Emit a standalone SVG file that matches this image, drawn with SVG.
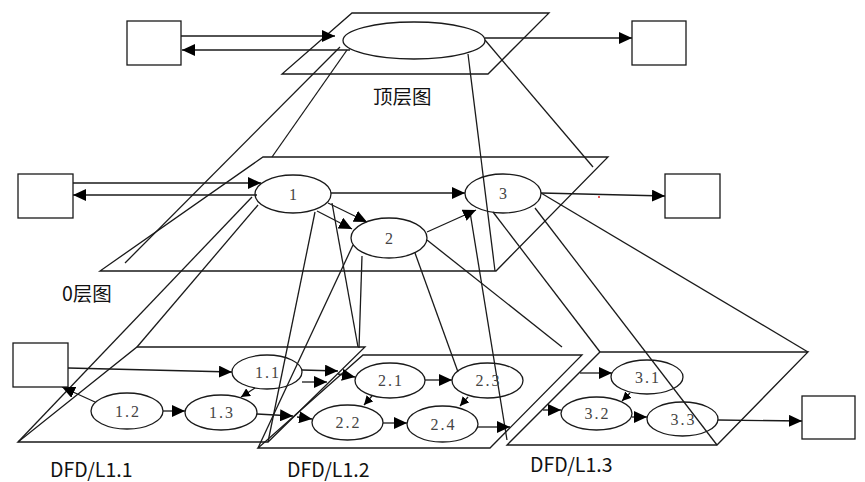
<svg xmlns="http://www.w3.org/2000/svg" width="865" height="482" viewBox="0 0 865 482">
  <style>
    .ln { fill: none; stroke: #1a1a1a; stroke-width: 1.3; }
    .sh { fill: #fff; stroke: #1a1a1a; stroke-width: 1.3; }
    .pl { fill: none; stroke: #1a1a1a; stroke-width: 1.3; stroke-linejoin: miter; }
    .num { font-family: "Liberation Serif", "Noto Serif", serif; font-size: 16px; fill: #444; text-anchor: middle; dominant-baseline: central; }
    .cap { font-family: "Noto Sans CJK SC", "Noto Sans", sans-serif; font-size: 19.5px; fill: #111; }
  </style>
  <defs>
    <marker id="arr" markerUnits="userSpaceOnUse" markerWidth="14" markerHeight="12" refX="13" refY="6" orient="auto">
      <path d="M0,0 L13,6 L0,12 z" fill="#000"/>
    </marker>
    <marker id="arrs" markerUnits="userSpaceOnUse" markerWidth="10" markerHeight="9" refX="9" refY="4.5" orient="auto">
      <path d="M0,0 L9,4.5 L0,9 z" fill="#000"/>
    </marker>
  </defs>

  <!-- level planes -->
  <g id="plane-top"><polygon class="pl" points="352,13 549,13 488,74 282,74"/></g>
  <g id="plane-0"><polygon class="pl" points="263,157 608,157 496,271 100,271"/></g>
  <g id="plane-l11"><polygon class="pl" points="137,347 365,347 268,442 18,442"/></g>
  <g id="plane-l12"><polygon class="pl" points="363,355 582,355 490,448 258,448"/></g>
  <g id="plane-l13"><polygon class="pl" points="600,352 808,352 717,445 507,445"/></g>

  <!-- projection lines between levels -->
  <g id="projections" class="ln">
    <path d="M340,47 L125,263"/>
    <path d="M347,50 L272,157"/>
    <path d="M485,40 L593,167"/>
    <path d="M468,54 L495,271"/>
    <path d="M252,197 L18,442"/>
    <path d="M258,205 L137,347"/>
    <path d="M315,212 L268,442"/>
    <path d="M332,203 L358,347"/>
    <path d="M353,245 L258,448"/>
    <path d="M362,256 L359,348"/>
    <path d="M415,253 L458,372"/>
    <path d="M427,240 L562,347"/>
    <path d="M470,212 L507,440"/>
    <path d="M493,212 L600,352"/>
    <path d="M535,208 L717,445"/>
    <path d="M541,193 L808,352"/>
  </g>

  <!-- data flows -->
  <g id="connectors" class="ln">
    <!-- top level -->
    <path d="M181,36 L335,36" marker-end="url(#arr)"/>
    <path d="M350,50 L182,50" marker-end="url(#arr)"/>
    <path d="M485,38 L632,38" marker-end="url(#arr)"/>
    <!-- level 0 -->
    <path d="M73,183 L261,183" marker-end="url(#arr)"/>
    <path d="M257,195 L73,195" marker-end="url(#arr)"/>
    <path d="M331,193 L465,193" marker-end="url(#arr)"/>
    <path d="M328,203 L367,222" marker-end="url(#arr)"/>
    <path d="M317,211 L352,229" marker-end="url(#arr)"/>
    <path d="M427,232 L476,210" marker-end="url(#arr)"/>
    <path d="M541,193 L665,196" marker-end="url(#arr)"/>
    <!-- DFD/L1.1 -->
    <path d="M68,368 L232,372" marker-end="url(#arr)"/>
    <path d="M95,402 L62,387" marker-end="url(#arr)"/>
    <path d="M163,411 L185,411" marker-end="url(#arr)"/>
    <path d="M255,388 L241,397" marker-end="url(#arrs)"/>
    <path d="M302,370 L338,371" marker-end="url(#arr)"/>
    <path d="M302,382 L327,382" marker-end="url(#arr)"/>
    <path d="M257,414 L293,416" marker-end="url(#arr)"/>
    <!-- DFD/L1.2 -->
    <path d="M338,374 L355,377" marker-end="url(#arr)"/>
    <path d="M297,417 L312,419" marker-end="url(#arr)"/>
    <path d="M425,380 L452,380" marker-end="url(#arr)"/>
    <path d="M383,423 L407,423" marker-end="url(#arr)"/>
    <path d="M372,396 L364,405" marker-end="url(#arrs)"/>
    <path d="M468,397 L460,406" marker-end="url(#arrs)"/>
    <path d="M478,427 L510,427" marker-end="url(#arr)"/>
    <!-- DFD/L1.3 -->
    <path d="M580,373 L612,373" marker-end="url(#arr)"/>
    <path d="M543,410 L561,410" marker-end="url(#arr)"/>
    <path d="M630,393 L622,401" marker-end="url(#arrs)"/>
    <path d="M632,417 L647,417" marker-end="url(#arr)"/>
    <path d="M718,420 L802,421" marker-end="url(#arr)"/>
  </g>

  <!-- external entities -->
  <g id="ext-top-in"><rect class="sh" x="127" y="21" width="54" height="44"/></g>
  <g id="ext-top-out"><rect class="sh" x="632" y="21" width="54" height="44"/></g>
  <g id="ext-0-in"><rect class="sh" x="18" y="174" width="55" height="44"/></g>
  <g id="ext-0-out"><rect class="sh" x="665" y="174" width="55" height="44"/></g>
  <g id="ext-l11"><rect class="sh" x="13" y="343" width="55" height="44"/></g>
  <g id="ext-l13"><rect class="sh" x="802" y="396" width="53" height="43"/></g>

  <!-- processes -->
  <g id="p-top"><ellipse class="ln" cx="414" cy="40.5" rx="71" ry="18.5"/></g>
  <g id="p1"><ellipse class="ln" cx="293" cy="194" rx="38" ry="19"/><text class="num" x="293" y="194">1</text></g>
  <g id="p2"><ellipse class="ln" cx="389" cy="238" rx="38" ry="20"/><text class="num" x="389" y="238">2</text></g>
  <g id="p3"><ellipse class="ln" cx="503" cy="193.5" rx="38" ry="19.5"/><text class="num" x="503" y="193.5">3</text></g>

  <g id="p1-1"><ellipse class="ln" cx="267" cy="372" rx="35" ry="17"/><text class="num" x="268" y="372" letter-spacing="2">1.1</text></g>
  <g id="p1-2"><ellipse class="ln" cx="127" cy="411" rx="36" ry="18"/><text class="num" x="128" y="411" letter-spacing="2">1.2</text></g>
  <g id="p1-3"><ellipse class="ln" cx="221" cy="412.5" rx="36" ry="17.5"/><text class="num" x="222" y="412.5" letter-spacing="2">1.3</text></g>

  <g id="p2-1"><ellipse class="ln" cx="390" cy="380.5" rx="35" ry="17.5"/><text class="num" x="391" y="380.5" letter-spacing="2">2.1</text></g>
  <g id="p2-2"><ellipse class="ln" cx="347.5" cy="422.5" rx="35.5" ry="17.5"/><text class="num" x="348.5" y="422.5" letter-spacing="2">2.2</text></g>
  <g id="p2-3"><ellipse class="ln" cx="487.5" cy="380.5" rx="35.5" ry="17.5"/><text class="num" x="488.5" y="380.5" letter-spacing="2">2.3</text></g>
  <g id="p2-4"><ellipse class="ln" cx="442.5" cy="424" rx="35.5" ry="18"/><text class="num" x="443.5" y="424" letter-spacing="2">2.4</text></g>

  <g id="p3-1"><ellipse class="ln" cx="647" cy="377" rx="36" ry="17"/><text class="num" x="648" y="377" letter-spacing="2">3.1</text></g>
  <g id="p3-2"><ellipse class="ln" cx="596.5" cy="413.5" rx="35.5" ry="16.5"/><text class="num" x="597.5" y="413.5" letter-spacing="2">3.2</text></g>
  <g id="p3-3"><ellipse class="ln" cx="682.5" cy="419" rx="35.5" ry="17"/><text class="num" x="683.5" y="419" letter-spacing="2">3.3</text></g>

  <!-- stray pen mark -->
  <circle cx="599" cy="197" r="1" fill="#e02020"/>

  <!-- level captions -->
  <g id="captions">
    <text class="cap" x="373" y="104">顶层图</text>
    <text class="cap" x="62" y="301">0层图</text>
    <text class="cap" x="50" y="477">DFD/L1.1</text>
    <text class="cap" x="287" y="477">DFD/L1.2</text>
    <text class="cap" x="530" y="472">DFD/L1.3</text>
  </g>
</svg>
